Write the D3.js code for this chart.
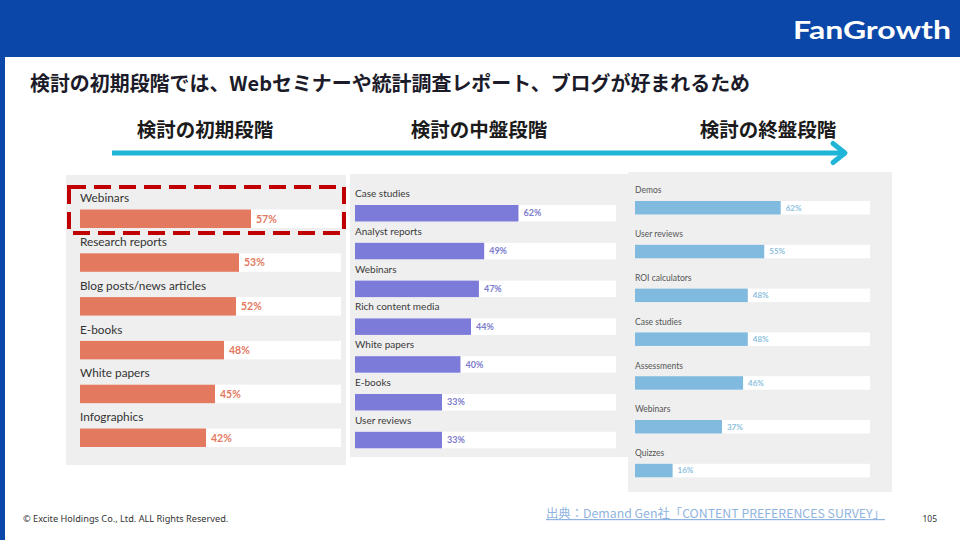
<!DOCTYPE html>
<html><head><meta charset="utf-8">
<script src="https://cdn.jsdelivr.net/npm/d3@7"></script>
<style>
html,body{margin:0;padding:0;background:#fff;}
svg{display:block;}
</style></head>
<body>
<svg id="c" width="960" height="540"></svg>
<script>
// ---- data ----
const stages = ["検討の初期段階", "検討の中盤段階", "検討の終盤段階"];
const earlyCats = ["Webinars", "Research reports", "Blog posts/news articles", "E-books", "White papers", "Infographics"];
const earlyVals = [57, 53, 52, 48, 45, 42];
const midCats = ["Case studies", "Analyst reports", "Webinars", "Rich content media", "White papers", "E-books", "User reviews"];
const midVals = [62, 49, 47, 44, 40, 33, 33];
const lateCats = ["Demos", "User reviews", "ROI calculators", "Case studies", "Assessments", "Webinars", "Quizzes"];
const lateVals = [62, 55, 48, 48, 46, 37, 16];
const titleText = "検討の初期段階では、Webセミナーや統計調査レポート、ブログが好まれるため";
const sourceText = "出典：Demand Gen社「CONTENT PREFERENCES SURVEY」";
const copyrightText = "© Excite Holdings Co., Ltd. ALL Rights Reserved.";
const pageNo = "105";

const svg = d3.select("#c");
const JP = "'Noto Sans CJK JP','Noto Sans',sans-serif";
const LAT = "Lato,'Noto Sans',sans-serif";

// header band + left strip
svg.append("rect").attr("x",0).attr("y",0).attr("width",960).attr("height",57).attr("fill","#0b47a8");
svg.append("rect").attr("x",0).attr("y",57).attr("width",5).attr("height",483).attr("fill","#0b47a8");
svg.append("text").attr("x",793).attr("y",39).attr("fill","#fff")
  .attr("font-family","Lato,'Noto Sans',sans-serif").attr("font-weight",700).attr("font-size",25)
  .attr("textLength",158).attr("lengthAdjust","spacingAndGlyphs").text("FanGrowth");

// title
svg.append("text").attr("x",30).attr("y",91).attr("fill","#1b1b2a")
  .attr("font-family",JP).attr("font-weight",700).attr("font-size",20)
  .attr("textLength",720).attr("lengthAdjust","spacingAndGlyphs").text(titleText);

// stage headings
const stageX = d3.scaleOrdinal().domain(stages).range([205, 479, 768]);
svg.selectAll("text.stage").data(stages).enter().append("text")
  .attr("class","stage").attr("x",d=>stageX(d)).attr("y",137).attr("text-anchor","middle")
  .attr("fill","#1b1b1b").attr("font-family",JP).attr("font-weight",700).attr("font-size",19.5).text(d=>d);

// arrow
svg.append("line").attr("x1",112).attr("y1",153).attr("x2",843).attr("y2",153)
  .attr("stroke","#20b5d6").attr("stroke-width",5);
svg.append("path").attr("d","M833,143.5 L845,153 L833,162.5").attr("fill","none")
  .attr("stroke","#20b5d6").attr("stroke-width",5).attr("stroke-linecap","round").attr("stroke-linejoin","round");

// panels
const panels = [
  {cats: earlyCats, vals: earlyVals, bg:[66,175,280,290], x0:80, x1:341, max:87, top:201.5, step:43.8, labOff:7.5, barOff:8, barH:18.5,
   color:"#e3795f", valColor:"#e3795f", fs:11.8, vfs:10.5, lc:"#333"},
  {cats: midCats, vals: midVals, bg:[350,174,278,283], x0:355, x1:616, max:99, top:197, step:37.8, labOff:7.5, barOff:8, barH:16.5,
   color:"#7d7bd9", valColor:"#7d7bcc", fs:10, vfs:9, lc:"#3a3a3a"},
  {cats: lateCats, vals: lateVals, bg:[628,172,264,320], x0:635, x1:870, max:100, top:193.5, step:43.8, labOff:7, barOff:7.5, barH:13.5,
   color:"#80bade", valColor:"#8cc0de", fs:8.5, vfs:8, lc:"#555"}
];

panels.forEach(p => {
  const g = svg.append("g");
  g.append("rect").attr("x",p.bg[0]).attr("y",p.bg[1]).attr("width",p.bg[2]).attr("height",p.bg[3]).attr("fill","#efefef");
  const x = d3.scaleLinear().domain([0,p.max]).range([p.x0,p.x1]);
  const y = d3.scaleBand().domain(p.cats).range([p.top, p.top + p.step*p.cats.length]).paddingInner(0);
  const data = p.cats.map((c,i)=>({c, v:p.vals[i]}));
  const row = g.selectAll("g.row").data(data).enter().append("g").attr("class","row");
  row.append("rect").attr("x",x(0)).attr("y",d=>y(d.c)+p.barOff).attr("width",x(p.max)-x(0)).attr("height",p.barH).attr("fill","#fff");
  row.append("rect").attr("x",x(0)).attr("y",d=>y(d.c)+p.barOff).attr("width",d=>x(d.v)-x(0)).attr("height",p.barH).attr("fill",p.color);
  row.append("text").attr("x",x(0)).attr("y",d=>y(d.c)).attr("dy",-p.labOff+p.fs*0.35+4)
    .attr("fill",p.lc).attr("font-family",LAT).attr("font-size",p.fs).text(d=>d.c);
  row.append("text").attr("x",d=>x(d.v)+5).attr("y",d=>y(d.c)+p.barOff+p.barH/2).attr("dy","0.36em")
    .attr("fill",p.valColor).attr("font-family",LAT).attr("font-weight",700).attr("font-size",p.vfs).text(d=>d.v+"%");
});

// red dashed highlight
svg.append("rect").attr("x",69).attr("y",187).attr("width",275).attr("height",46)
  .attr("fill","none").attr("stroke","#c00000").attr("stroke-width",4).attr("stroke-dasharray","17,8");

// footer
svg.append("text").attr("x",23).attr("y",522).attr("fill","#333").attr("font-family","'Noto Sans',sans-serif")
  .attr("font-size",9.2).text(copyrightText);
svg.append("text").attr("x",546).attr("y",518).attr("fill","#8fb4e0").attr("font-family",JP)
  .attr("font-size",12).attr("text-decoration","underline")
  .attr("textLength",339).attr("lengthAdjust","spacingAndGlyphs").text(sourceText);
svg.append("text").attr("x",937).attr("y",522).attr("text-anchor","end").attr("fill","#333")
  .attr("font-family","'Noto Sans',sans-serif").attr("font-size",8.5).text(pageNo);
</script>
</body></html>
